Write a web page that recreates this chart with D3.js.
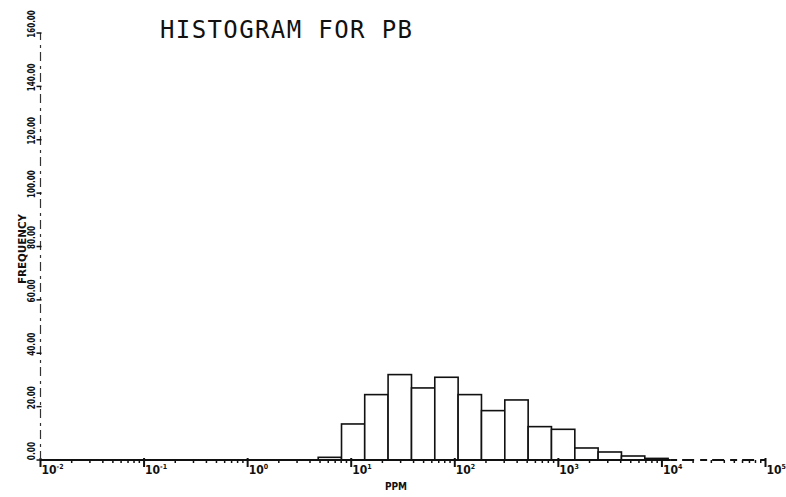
<!DOCTYPE html>
<html>
<head>
<meta charset="utf-8">
<script src="https://cdn.jsdelivr.net/npm/d3@7"></script>
<style>
  html, body { margin: 0; padding: 0; background: #fff; }
  svg { display: block; }
</style>
</head>
<body>
<svg id="chart" width="786" height="497"></svg>
<script>
// ---- data ----
const titleText = "HISTOGRAM FOR PB";
const xLabel = "PPM";
const yLabel = "FREQUENCY";
// bin edges in PPM (log-spaced bins)
const binEdges = [4.8, 8.06, 13.5, 22.7, 38.2, 64.1, 107.7, 181, 304, 511, 858, 1442, 2421, 4067, 6831, 11476];
// frequency for each bin
const frequency = [1, 13.5, 24.5, 32, 27, 31, 24.5, 18.5, 22.5, 12.5, 11.5, 4.5, 3, 1.5, 0.6];
const yTicks = [0, 20, 40, 60, 80, 100, 120, 140, 160];
const xDecades = [-2, -1, 0, 1, 2, 3, 4, 5];

const svg = d3.select("#chart");
const ink = "#111";

const x = d3.scaleLog().domain([1e-2, 1e5]).range([40.5, 765.5]);
const y = d3.scaleLinear().domain([0, 160]).range([460, 33]);

// bins
const bins = frequency.map((f, i) => ({ x0: binEdges[i], x1: binEdges[i + 1], f }));
svg.append("g").selectAll("rect").data(bins).join("rect")
  .attr("x", d => x(d.x0))
  .attr("y", d => y(d.f))
  .attr("width", d => x(d.x1) - x(d.x0))
  .attr("height", d => y(0) - y(d.f))
  .attr("fill", "#fff")
  .attr("stroke", ink)
  .attr("stroke-width", 1.6);

// x axis
const gx = svg.append("g");
const solidEnd = 1.2e4;
gx.append("line")
  .attr("x1", x(1e-2)).attr("x2", x(solidEnd))
  .attr("y1", y(0)).attr("y2", y(0))
  .attr("stroke", ink).attr("stroke-width", 2);
gx.append("line")
  .attr("x1", x(solidEnd)).attr("x2", x(1e5))
  .attr("y1", y(0)).attr("y2", y(0))
  .attr("stroke", ink).attr("stroke-width", 2)
  .attr("stroke-dasharray", "7,5,12,6");

// minor ticks
const minor = [];
xDecades.slice(0, -1).forEach(e => { for (let m = 2; m <= 9; m++) minor.push(m * Math.pow(10, e)); });
gx.selectAll("line.minor").data(minor).join("line")
  .attr("class", "minor")
  .attr("x1", d => x(d)).attr("x2", d => x(d))
  .attr("y1", y(0)).attr("y2", y(0) + 3)
  .attr("stroke", ink).attr("stroke-width", 1.5);
// major ticks
gx.selectAll("line.major").data(xDecades).join("line")
  .attr("class", "major")
  .attr("x1", d => x(Math.pow(10, d))).attr("x2", d => x(Math.pow(10, d)))
  .attr("y1", y(0) - 2).attr("y2", y(0) + 7)
  .attr("stroke", ink).attr("stroke-width", 2);
// labels 10^n
const xl = gx.selectAll("text.xl").data(xDecades).join("text")
  .attr("class", "xl")
  .attr("x", d => x(Math.pow(10, d)) + 1)
  .attr("y", 474)
  .attr("font-family", "'DejaVu Sans Condensed', 'DejaVu Sans', sans-serif")
  .attr("font-weight", "bold")
  .attr("font-size", 12)
  .attr("fill", ink);
xl.append("tspan").text("10");
xl.append("tspan").attr("dy", -5).attr("font-size", 7).text(d => d);

// y axis
const gy = svg.append("g");
gy.append("line")
  .attr("x1", x(1e-2)).attr("x2", x(1e-2))
  .attr("y1", y(0)).attr("y2", y(160))
  .attr("stroke", "#333").attr("stroke-width", 1.2)
  .attr("stroke-dasharray", "9,4,3,5");
gy.selectAll("line.yt").data(yTicks).join("line")
  .attr("class", "yt")
  .attr("x1", x(1e-2) - 4).attr("x2", x(1e-2) + 1)
  .attr("y1", d => y(d)).attr("y2", d => y(d))
  .attr("stroke", ink).attr("stroke-width", 1.5);
const fmt = d3.format(".2f");
gy.selectAll("text.yl").data(yTicks).join("text")
  .attr("class", "yl")
  .attr("transform", d => `translate(35,${y(d) - 9}) rotate(-90)`)
  .attr("text-anchor", "middle")
  .attr("font-family", "'DejaVu Sans Condensed', 'DejaVu Sans', sans-serif")
  .attr("font-weight", "bold")
  .attr("font-size", 10)
  .attr("textLength", d => fmt(d).length * 4.6)
  .attr("lengthAdjust", "spacingAndGlyphs")
  .attr("fill", ink)
  .text(d => fmt(d));

// axis titles
svg.append("text")
  .attr("transform", "translate(26,249) rotate(-90)")
  .attr("text-anchor", "middle")
  .attr("font-family", "'DejaVu Sans Condensed', 'DejaVu Sans', sans-serif")
  .attr("font-weight", "bold")
  .attr("font-size", 11)
  .attr("textLength", 70)
  .attr("lengthAdjust", "spacingAndGlyphs")
  .attr("fill", ink)
  .text(yLabel);
svg.append("text")
  .attr("x", 396).attr("y", 490)
  .attr("text-anchor", "middle")
  .attr("font-family", "'DejaVu Sans Condensed', 'DejaVu Sans', sans-serif")
  .attr("font-weight", "bold")
  .attr("font-size", 10)
  .attr("fill", ink)
  .text(xLabel);

// title
svg.append("text")
  .attr("x", 160).attr("y", 38)
  .attr("font-family", "'DejaVu Sans Mono', monospace")
  .attr("font-size", 24)
  .attr("textLength", 252)
  .attr("lengthAdjust", "spacing")
  .attr("fill", ink)
  .text(titleText);
</script>
</body>
</html>
